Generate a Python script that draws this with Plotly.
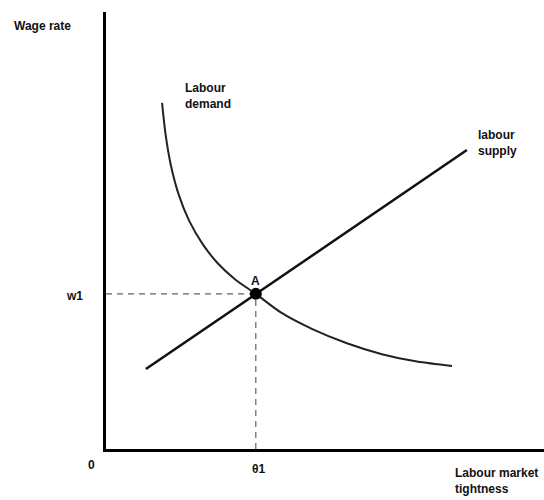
import plotly.graph_objects as go

# labour demand curve (tightness, wage)
demand_x = [1.28, 1.36, 1.48, 1.66, 1.90, 2.20, 2.55, 2.95, 3.42, 4.00, 4.70, 5.50, 6.30, 7.10, 7.90]
demand_y = [7.92, 7.20, 6.50, 5.82, 5.22, 4.70, 4.25, 3.88, 3.55, 3.12, 2.75, 2.42, 2.17, 2.00, 1.90]

# labour supply line
supply_x = [0.91, 8.24]
supply_y = [1.83, 6.84]

# equilibrium A
theta1 = 3.42
w1 = 3.55

ink = "#111111"
fnt = dict(family="Liberation Sans, Arial, sans-serif", size=12, color=ink)

fig = go.Figure()

# dashed guides
fig.add_trace(go.Scatter(x=[0, theta1], y=[w1, w1], mode="lines",
                         line=dict(color="#6b5f5a", width=1.2, dash="6px,5px"),
                         hoverinfo="skip"))
fig.add_trace(go.Scatter(x=[theta1, theta1], y=[0, w1], mode="lines",
                         line=dict(color="#6b5f5a", width=1.2, dash="6px,5px"),
                         hoverinfo="skip"))

fig.add_trace(go.Scatter(x=demand_x, y=demand_y, mode="lines",
                         line=dict(color="#222222", width=2, shape="spline", smoothing=0.8),
                         name="Labour demand"))
fig.add_trace(go.Scatter(x=supply_x, y=supply_y, mode="lines",
                         line=dict(color="#111111", width=2.5), name="labour supply"))
fig.add_trace(go.Scatter(x=[theta1], y=[w1], mode="markers",
                         marker=dict(color="black", size=12), name="A"))

# labels in axis units, placed via paper coords (axis ranges are 0..10)
labels = [
    ("<b>Wage rate</b>", -1.46, 9.89, "center"),
    ("<b>Labour<br>demand</b>", 1.76, 8.47, "left"),
    ("<b>labour<br>supply</b>", 8.45, 7.39, "left"),
    ("<b>A</b>", 3.42, 3.85, "center"),
    ("<b>w1</b>", -0.72, 3.50, "center"),
    ("<b>0</b>", -0.32, -0.57, "center"),
    ("<b>θ1</b>", 3.48, -0.66, "center"),
    ("<b>Labour market<br>tightness</b>", 7.93, -1.13, "left"),
]
for txt, x, y, anchor in labels:
    fig.add_annotation(x=x / 10, y=y / 10, xref="paper", yref="paper", text=txt,
                       showarrow=False, xanchor=anchor, align="left", font=fnt)

fig.update_layout(
    width=544, height=500,
    margin=dict(l=106, r=0, t=12, b=51),
    paper_bgcolor="white", plot_bgcolor="white",
    showlegend=False,
    xaxis=dict(range=[0, 10], showgrid=False, zeroline=False, showticklabels=False,
               ticks="", showline=True, linecolor="black", linewidth=2.5),
    yaxis=dict(range=[0, 10], showgrid=False, zeroline=False, showticklabels=False,
               ticks="", showline=True, linecolor="black", linewidth=2.5),
)

fig.write_html("out.html", config={"displayModeBar": False},
               post_script="document.body.style.margin='0';")
